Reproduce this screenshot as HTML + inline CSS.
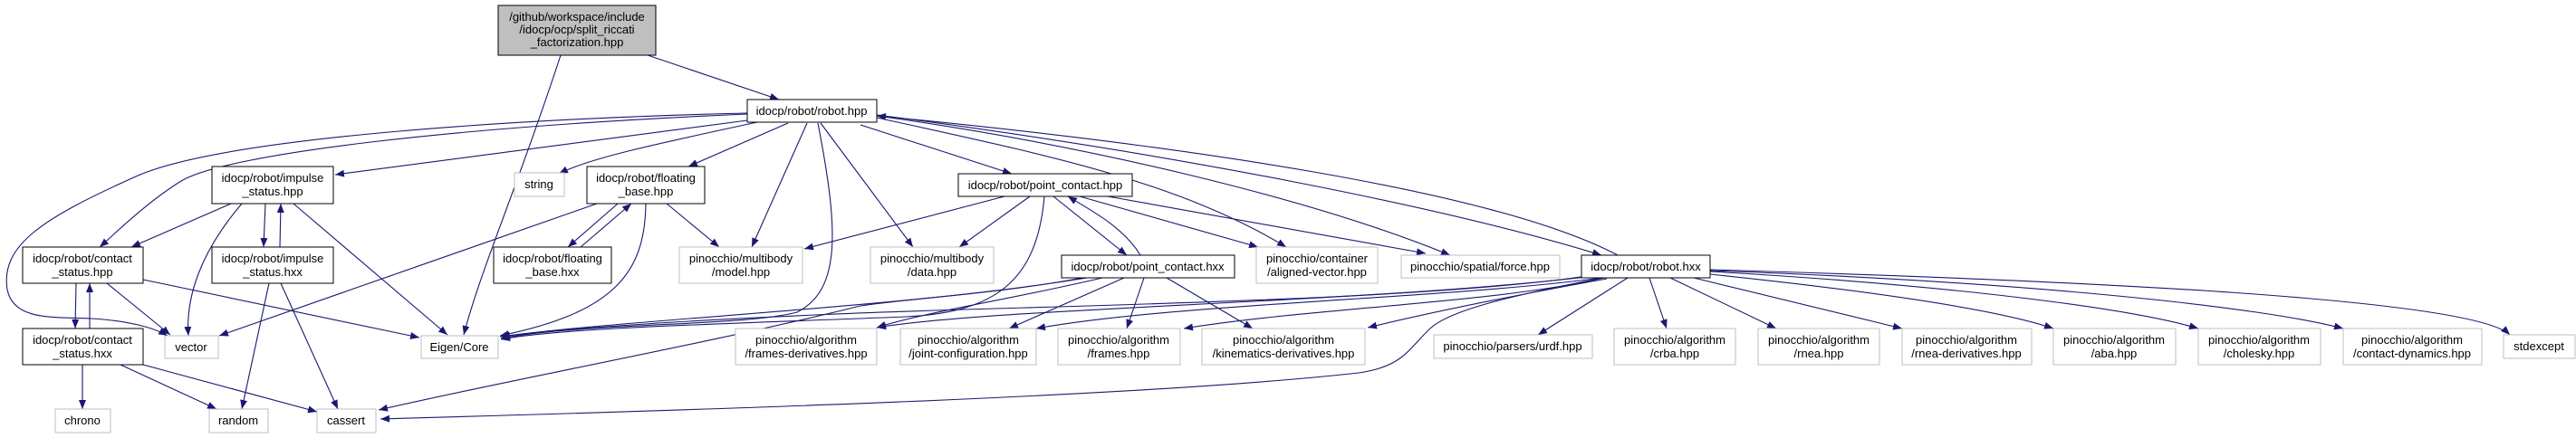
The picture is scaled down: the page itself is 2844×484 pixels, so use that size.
<!DOCTYPE html>
<html><head><meta charset="utf-8"><style>
html,body{margin:0;padding:0;background:#fff;}
svg{display:block;}
text{font-family:"Liberation Sans",sans-serif;font-size:13px;fill:#000;text-anchor:middle;}
.n{fill:#fff;stroke:#000;stroke-width:1;}
.g{fill:#fff;stroke:#bfbfbf;stroke-width:1;}
.e{fill:none;stroke:#191970;stroke-width:1.1;marker-end:url(#a);}
</style></head><body>
<svg width="2844" height="484" viewBox="0 0 2844 484" xmlns="http://www.w3.org/2000/svg">
<defs><marker id="a" markerUnits="userSpaceOnUse" markerWidth="11" markerHeight="8" refX="10" refY="4" orient="auto"><path d="M0,0 L10,4 L0,8 z" fill="#191970"/></marker></defs>

<!-- edges -->
<path class="e" d="M715,61 L860,110"/>
<path class="e" d="M619,61 C570,210 530,300 512,370"/>
<path class="e" d="M825,125 C600,130 250,150 150,195 C50,240 0,270 8,320 C15,355 60,350 100,352 C140,354 170,362 185,371"/>
<path class="e" d="M825,126 C500,140 250,170 200,200 C160,225 125,260 110,273"/>
<path class="e" d="M825,133 L370,193"/>
<path class="e" d="M836,135 C720,160 650,175 617,192"/>
<path class="e" d="M870,136 L760,184"/>
<path class="e" d="M891,136 L830,273"/>
<path class="e" d="M903,136 C925,250 930,320 880,345 C820,360 700,355 552,372"/>
<path class="e" d="M906,136 L1008,273"/>
<path class="e" d="M950,138 L1117,192"/>
<path class="e" d="M968,130 C1150,170 1300,200 1420,273"/>
<path class="e" d="M968,128 C1200,160 1450,220 1601,282"/>
<path class="e" d="M968,127 C1300,170 1600,230 1768,282"/>
<path class="e" d="M1786,282 C1650,210 1300,160 968,128"/>
<path class="e" d="M255,225 L145,273"/>
<path class="e" d="M267,225 C220,280 205,330 208,371"/>
<path class="e" d="M293,225 L291,273"/>
<path class="e" d="M309,273 L310,225"/>
<path class="e" d="M324,225 L494,370"/>
<path class="e" d="M118,313 L188,370"/>
<path class="e" d="M158,309 L463,373"/>
<path class="e" d="M84,313 L83,363"/>
<path class="e" d="M99,363 L99,313"/>
<path class="e" d="M297,313 L267,452"/>
<path class="e" d="M310,313 L373,452"/>
<path class="e" d="M91,403 L91,452"/>
<path class="e" d="M133,403 L239,452"/>
<path class="e" d="M158,403 L350,455"/>
<path class="e" d="M659,225 L242,371"/>
<path class="e" d="M682,225 L627,273"/>
<path class="e" d="M641,273 L697,225"/>
<path class="e" d="M713,225 C712,300 680,345 552,371"/>
<path class="e" d="M736,225 L794,273"/>
<path class="e" d="M1109,217 L888,275"/>
<path class="e" d="M1137,217 L1059,273"/>
<path class="e" d="M1153,217 C1145,310 1100,345 1000,350 C800,358 620,362 553,375"/>
<path class="e" d="M1163,217 L1244,282"/>
<path class="e" d="M1259,282 C1240,250 1200,230 1179,217"/>
<path class="e" d="M1192,217 L1389,273"/>
<path class="e" d="M1223,217 L1574,280"/>
<path class="e" d="M1195,307 C1100,325 1000,330 950,338 C780,380 560,420 418,453"/>
<path class="e" d="M1770,307 C1650,330 1600,345 1580,362 C1555,385 1550,405 1500,412 C1250,440 700,455 420,463"/>
<path class="e" d="M1200,307 C1000,340 700,352 553,372"/>
<path class="e" d="M1217,307 C1120,330 1020,345 968,362"/>
<path class="e" d="M1241,307 L1114,363"/>
<path class="e" d="M1263,307 L1244,363"/>
<path class="e" d="M1288,307 L1383,363"/>
<path class="e" d="M1752,305 C1550,335 1100,338 900,348 C700,357 600,365 553,374"/>
<path class="e" d="M1752,306 C1500,335 1100,340 968,362"/>
<path class="e" d="M1768,307 C1600,330 1300,335 1144,363"/>
<path class="e" d="M1771,307 C1650,335 1450,340 1307,363"/>
<path class="e" d="M1774,308 C1680,325 1580,345 1510,362"/>
<path class="e" d="M1797,307 L1698,370"/>
<path class="e" d="M1821,307 L1840,363"/>
<path class="e" d="M1844,307 L1961,363"/>
<path class="e" d="M1870,307 L2100,363"/>
<path class="e" d="M1888,303 C2050,320 2200,340 2267,363"/>
<path class="e" d="M1888,300 C2150,315 2350,340 2427,363"/>
<path class="e" d="M1888,299 C2250,312 2500,340 2587,363"/>
<path class="e" d="M1888,298 C2300,310 2730,330 2771,370"/>

<!-- nodes -->
<rect x="550" y="6" width="174" height="55" fill="#bfbfbf" stroke="#000"/>
<text x="637" y="23">/github/workspace/include</text>
<text x="637" y="37">/idocp/ocp/split_riccati</text>
<text x="637" y="51">_factorization.hpp</text>

<rect class="n" x="825" y="110" width="143" height="25"/><text x="896" y="127">idocp/robot/robot.hpp</text>
<rect class="n" x="234" y="184" width="134" height="41"/><text x="301" y="201">idocp/robot/impulse</text><text x="301" y="216">_status.hpp</text>
<rect class="g" x="568" y="191" width="55" height="26"/><text x="595" y="208">string</text>
<rect class="n" x="648" y="184" width="130" height="41"/><text x="713" y="201">idocp/robot/floating</text><text x="713" y="216">_base.hpp</text>
<rect class="n" x="1058" y="192" width="192" height="25"/><text x="1154" y="209">idocp/robot/point_contact.hpp</text>

<rect class="n" x="25" y="273" width="133" height="40"/><text x="91" y="290">idocp/robot/contact</text><text x="91" y="305">_status.hpp</text>
<rect class="n" x="234" y="273" width="134" height="40"/><text x="301" y="290">idocp/robot/impulse</text><text x="301" y="305">_status.hxx</text>
<rect class="n" x="545" y="273" width="130" height="40"/><text x="610" y="290">idocp/robot/floating</text><text x="610" y="305">_base.hxx</text>
<rect class="g" x="750" y="273" width="136" height="40"/><text x="818" y="290">pinocchio/multibody</text><text x="818" y="305">/model.hpp</text>
<rect class="g" x="961" y="273" width="136" height="40"/><text x="1029" y="290">pinocchio/multibody</text><text x="1029" y="305">/data.hpp</text>
<rect class="n" x="1172" y="282" width="191" height="25"/><text x="1267" y="299">idocp/robot/point_contact.hxx</text>
<rect class="g" x="1387" y="273" width="134" height="40"/><text x="1454" y="290">pinocchio/container</text><text x="1454" y="305">/aligned-vector.hpp</text>
<rect class="g" x="1547" y="282" width="175" height="25"/><text x="1634" y="299">pinocchio/spatial/force.hpp</text>
<rect class="n" x="1746" y="282" width="142" height="25"/><text x="1817" y="299">idocp/robot/robot.hxx</text>

<rect class="n" x="25" y="363" width="133" height="40"/><text x="91" y="380">idocp/robot/contact</text><text x="91" y="395">_status.hxx</text>
<rect class="g" x="182" y="371" width="59" height="25"/><text x="211" y="388">vector</text>
<rect class="g" x="465" y="371" width="85" height="25"/><text x="507" y="388">Eigen/Core</text>
<rect class="g" x="812" y="363" width="156" height="40"/><text x="890" y="380">pinocchio/algorithm</text><text x="890" y="395">/frames-derivatives.hpp</text>
<rect class="g" x="994" y="363" width="150" height="40"/><text x="1069" y="380">pinocchio/algorithm</text><text x="1069" y="395">/joint-configuration.hpp</text>
<rect class="g" x="1168" y="363" width="135" height="40"/><text x="1235" y="380">pinocchio/algorithm</text><text x="1235" y="395">/frames.hpp</text>
<rect class="g" x="1327" y="363" width="180" height="40"/><text x="1417" y="380">pinocchio/algorithm</text><text x="1417" y="395">/kinematics-derivatives.hpp</text>
<rect class="g" x="1583" y="370" width="175" height="26"/><text x="1670" y="387">pinocchio/parsers/urdf.hpp</text>
<rect class="g" x="1782" y="363" width="134" height="40"/><text x="1849" y="380">pinocchio/algorithm</text><text x="1849" y="395">/crba.hpp</text>
<rect class="g" x="1941" y="363" width="134" height="40"/><text x="2008" y="380">pinocchio/algorithm</text><text x="2008" y="395">/rnea.hpp</text>
<rect class="g" x="2100" y="363" width="143" height="40"/><text x="2171" y="380">pinocchio/algorithm</text><text x="2171" y="395">/rnea-derivatives.hpp</text>
<rect class="g" x="2267" y="363" width="135" height="40"/><text x="2334" y="380">pinocchio/algorithm</text><text x="2334" y="395">/aba.hpp</text>
<rect class="g" x="2427" y="363" width="135" height="40"/><text x="2494" y="380">pinocchio/algorithm</text><text x="2494" y="395">/cholesky.hpp</text>
<rect class="g" x="2587" y="363" width="153" height="40"/><text x="2663" y="380">pinocchio/algorithm</text><text x="2663" y="395">/contact-dynamics.hpp</text>
<rect class="g" x="2764" y="370" width="79" height="26"/><text x="2803" y="387">stdexcept</text>

<rect class="g" x="61" y="452" width="61" height="26"/><text x="91" y="469">chrono</text>
<rect class="g" x="231" y="452" width="65" height="26"/><text x="263" y="469">random</text>
<rect class="g" x="350" y="452" width="65" height="26"/><text x="382" y="469">cassert</text>
</svg>
</body></html>
